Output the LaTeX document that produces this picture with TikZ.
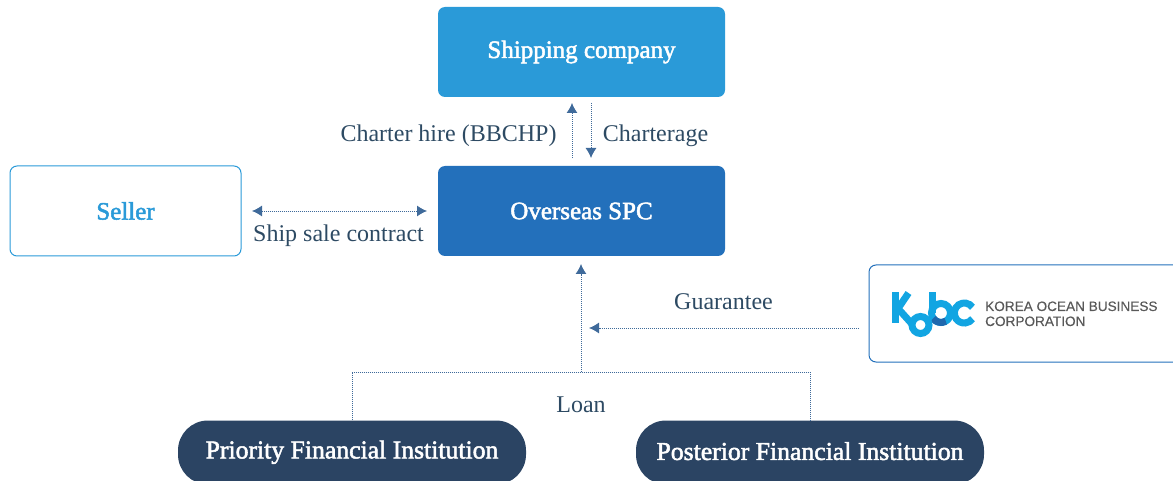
\documentclass[tikz,border=0pt]{standalone}
\usepackage{fontspec}
\setmainfont{Liberation Serif}
\newfontfamily\logofont[FakeBold=0.3]{Liberation Sans}
\newfontfamily\boxfont[FakeBold=2]{Liberation Serif}
\usetikzlibrary{positioning,arrows.meta}
\definecolor{skyblue}{HTML}{2A9AD8}
\definecolor{spcblue}{HTML}{2370BB}
\definecolor{navy}{HTML}{2B4463}
\definecolor{labelcol}{HTML}{2D4A63}
\definecolor{linecol}{HTML}{3F6A9A}
\definecolor{logoblue}{HTML}{12A5E2}
\definecolor{logodark}{HTML}{1F68AE}
\tikzset{party/.style={rounded corners=7pt,minimum width=287pt,minimum height=90pt,text=white,font=\boxfont\fontsize{25}{27}\selectfont,inner sep=0pt}}
\tikzset{lender/.style={fill=navy,rounded corners=30pt,minimum width=348pt,minimum height=64pt,text=white,font=\boxfont\fontsize{25.7}{27}\selectfont,inner sep=0pt}}
\tikzset{flow/.style={linecol,line width=0.9pt,dash pattern=on 1pt off 1pt}}
\tikzset{tip/.style={-{Latex[length=10pt,width=11pt]}}}
\tikzset{tips/.style={{Latex[length=10pt,width=11pt]}-{Latex[length=10pt,width=11pt]}}}
\tikzset{lbl/.style={text=labelcol,font=\fontsize{24}{26}\selectfont,inner sep=0pt}}
\tikzset{logostroke/.style={logoblue,line width=7pt}}

\begin{document}
\begin{tikzpicture}[x=1pt,y=-1pt]
	\useasboundingbox (0,0) rectangle (1173,481);
	\clip (0,0) rectangle (1173,481);

	% Boxes
	\node[party,fill=skyblue] (shipping) at (581.5,52) {\raisebox{-1pt}{Shipping company}};
	\node[party,fill=spcblue] (spc) at (581.5,211) {\raisebox{-1pt}{Overseas SPC}};
	\node[party,draw=skyblue,line width=1pt,minimum width=231pt,text=skyblue] (seller) at (125.5,211) {Seller};
	\node[draw=spcblue,line width=1pt,rounded corners=7pt,minimum width=320pt,minimum height=97pt,inner sep=0pt] (kobc) at (1029,313.5) {};
	\node[lender] (priority) at (352,452.5) {\raisebox{6pt}{Priority Financial Institution}};
	\node[lender] (posterior) at (810,452.5) {\raisebox{3pt}{Posterior Financial Institution}};

	% Free ends of the arrows
	\coordinate (hireA) at (572,158);
	\coordinate (hireB) at (572,103);
	\coordinate (chartA) at (591,103);
	\coordinate (chartB) at (591,158);
	\coordinate (saleA) at (252,211);
	\coordinate (saleB) at (427,211);
	\coordinate (loanTop) at (581,264);
	\coordinate (loanJoin) at (581,372);
	\coordinate (guarA) at (859,328);
	\coordinate (guarB) at (589,328);

	\draw[flow,tip] (hireA) -- (hireB);
	\draw[flow,tip] (chartA) -- (chartB);
	\draw[flow,tips] (saleA) -- (saleB);
	\draw[flow,tip] (guarA) -- (guarB);
	\draw[flow,tip] (loanJoin) -- (loanTop);
	\draw[flow] (priority.north) |- (loanJoin) -| (posterior.north);

	% Labels
	\node[lbl] (hirelbl) at (448.5,136) {Charter hire (BBCHP)};
	\node[lbl] (chartlbl) at (655.5,136) {Charterage};
	\node[lbl] (salelbl) at (338.5,236) {Ship sale contract};
	\node[lbl] (guarlbl) at (723.5,302) {Guarantee};
	\node[lbl] (loanlbl) at (581,405) {Loan};

	% Logo
	\draw[logostroke] (895,292) -- (895,323);
	\draw[logostroke] (908.5,293) -- (898,308.5) -- (912,324);
	\draw[logostroke] (932.5,292) -- (932.5,313);
	\draw[logostroke] (941,313) circle (9.5pt);
	\draw[logodark,line width=7pt] (933.2,318.4) arc (215:300:9.5pt);
	\draw[logostroke] (920.5,325) circle (8.5pt);
	\draw[logostroke] (972.5,307.3) arc (35:325:10pt);
	\node[text=black!65,font=\logofont\fontsize{13.6}{15}\selectfont,align=left,anchor=west,inner sep=0pt] (kobcname) at (985,313.8) {KOREA OCEAN BUSINESS\\CORPORATION};
\end{tikzpicture}
\end{document}
